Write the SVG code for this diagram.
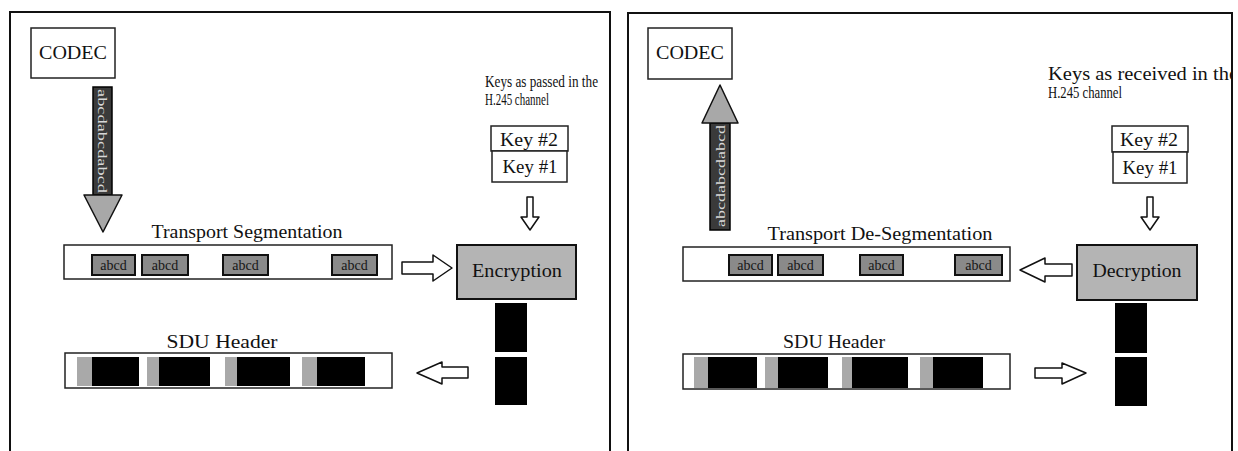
<svg xmlns="http://www.w3.org/2000/svg" width="1238" height="451" viewBox="0 0 1238 451">
<style>
  text { font-family: "Liberation Serif", "Times New Roman", serif; fill: #111; }
  .frame { fill: none; stroke: #111; stroke-width: 2; }
  .box { fill: #fff; stroke: #222; stroke-width: 1.5; }
  .hollow { fill: #fff; stroke: #111; stroke-width: 1.5; stroke-linejoin: round; }
  .seg { fill: #8a8a8a; stroke: #111; stroke-width: 2; }
  .segt { font-size: 14px; fill: #161616; text-anchor: middle; }
  .crypt { fill: #b4b4b4; stroke: #111; stroke-width: 2; }
  .blk { fill: #000; }
  .hdr { fill: #a9a9a9; }
  .shaft { fill: #3a3a3a; stroke: #000; stroke-width: 1.5; }
  .head { fill: #a8a8a8; stroke: #111; stroke-width: 1.5; stroke-linejoin: round; }
  .shaftt { font-size: 13px; fill: #d8d8d8; text-anchor: middle; }
  .lbl { font-size: 19px; text-anchor: middle; }
  .key { font-size: 19px; text-anchor: middle; }
  .note { font-size: 16px; }
</style>
<defs>
  <clipPath id="rclip"><rect x="628" y="0" width="604" height="451"/></clipPath>
</defs>

<!-- panel frames -->
<g id="frames">
  <polyline class="frame" points="10,451 10,12 610,12 610,451"/>
  <polyline class="frame" points="628,451 628,13 1232,13 1232,451"/>
</g>

<!-- LEFT PANEL -->
<g id="codec-left">
  <rect class="box" x="31" y="28" width="84" height="50"/>
  <text x="73" y="59" class="lbl" textLength="68" lengthAdjust="spacingAndGlyphs">CODEC</text>
</g>
<g id="stream-left">
  <rect class="shaft" x="93" y="87" width="19" height="108"/>
  <text class="shaftt" transform="translate(102.5,141) rotate(90)" y="4.5" textLength="104" lengthAdjust="spacingAndGlyphs">abcdabcdabcd</text>
  <polygon class="head" points="84,195 122,195 103,232"/>
</g>
<g id="keys-note-left">
  <text class="note" x="485" y="87" textLength="113" lengthAdjust="spacingAndGlyphs">Keys as passed in the</text>
  <text class="note" x="485" y="105" textLength="64" lengthAdjust="spacingAndGlyphs">H.245 channel</text>
</g>
<g id="keys-left">
  <rect class="box" x="491" y="126" width="77" height="25"/>
  <text class="key" x="529" y="146" textLength="58" lengthAdjust="spacingAndGlyphs">Key #2</text>
  <rect class="box" x="492" y="151" width="75" height="31"/>
  <text class="key" x="530" y="173" textLength="55" lengthAdjust="spacingAndGlyphs">Key #1</text>
</g>
<g id="transport-left">
  <text class="lbl" x="247" y="238" textLength="191" lengthAdjust="spacingAndGlyphs">Transport Segmentation</text>
  <rect class="box" x="64" y="245" width="328" height="34"/>
  <rect class="seg" x="92" y="255" width="43" height="20"/>
  <text class="segt" x="113.5" y="270">abcd</text>
  <rect class="seg" x="142" y="255" width="46" height="20"/>
  <text class="segt" x="165" y="270">abcd</text>
  <rect class="seg" x="223" y="255" width="45" height="20"/>
  <text class="segt" x="245.5" y="270">abcd</text>
  <rect class="seg" x="332" y="255" width="45" height="20"/>
  <text class="segt" x="354.5" y="270">abcd</text>
</g>
<g id="encryption">
  <rect class="crypt" x="457" y="245" width="119" height="54"/>
  <text x="517" y="277" class="lbl" textLength="90" lengthAdjust="spacingAndGlyphs">Encryption</text>
</g>
<g id="cipher-left">
  <rect class="blk" x="495" y="303" width="32" height="49"/>
  <rect class="blk" x="495" y="357" width="32" height="48"/>
</g>
<g id="sdu-left">
  <text class="lbl" x="222" y="348" textLength="111" lengthAdjust="spacingAndGlyphs">SDU Header</text>
  <rect class="box" x="65" y="353" width="327" height="35"/>
  <rect class="hdr" x="77" y="357" width="15" height="29"/>
  <rect class="blk" x="92" y="357" width="47" height="29"/>
  <rect class="hdr" x="147" y="357" width="12" height="29"/>
  <rect class="blk" x="159" y="357" width="51" height="29"/>
  <rect class="hdr" x="225" y="357" width="12" height="29"/>
  <rect class="blk" x="237" y="357" width="53" height="29"/>
  <rect class="hdr" x="302" y="357" width="15" height="29"/>
  <rect class="blk" x="317" y="357" width="48" height="29"/>
</g>

<!-- RIGHT PANEL -->
<g id="codec-right">
  <rect class="box" x="648" y="28" width="84" height="51"/>
  <text x="690" y="59" class="lbl" textLength="68" lengthAdjust="spacingAndGlyphs">CODEC</text>
</g>
<g id="stream-right">
  <rect class="shaft" x="710" y="123" width="20" height="107"/>
  <text class="shaftt" transform="translate(720,176) rotate(-90)" y="4.5" textLength="102" lengthAdjust="spacingAndGlyphs">abcdabcdabcd</text>
  <polygon class="head" points="720,85 738,123 702,123"/>
</g>
<g id="keys-note-right" clip-path="url(#rclip)">
  <text class="note" x="1048" y="80" style="font-size:18px" textLength="190" lengthAdjust="spacingAndGlyphs">Keys as received in the</text>
  <text class="note" x="1048" y="98" textLength="74" lengthAdjust="spacingAndGlyphs">H.245 channel</text>
</g>
<g id="keys-right">
  <rect class="box" x="1112" y="126" width="76" height="26"/>
  <text class="key" x="1149" y="146" textLength="58" lengthAdjust="spacingAndGlyphs">Key #2</text>
  <rect class="box" x="1113" y="152" width="74" height="31"/>
  <text class="key" x="1150" y="174" textLength="55" lengthAdjust="spacingAndGlyphs">Key #1</text>
</g>
<g id="transport-right">
  <text class="lbl" x="880" y="240" textLength="225" lengthAdjust="spacingAndGlyphs">Transport De-Segmentation</text>
  <rect class="box" x="683" y="247" width="327" height="34"/>
  <rect class="seg" x="729" y="255" width="43" height="20"/>
  <text class="segt" x="750.5" y="270">abcd</text>
  <rect class="seg" x="778" y="255" width="45" height="20"/>
  <text class="segt" x="800.5" y="270">abcd</text>
  <rect class="seg" x="860" y="255" width="43" height="20"/>
  <text class="segt" x="881.5" y="270">abcd</text>
  <rect class="seg" x="955" y="255" width="47" height="20"/>
  <text class="segt" x="978.5" y="270">abcd</text>
</g>
<g id="decryption">
  <rect class="crypt" x="1077" y="245" width="120" height="55"/>
  <text x="1137" y="277" class="lbl" textLength="89" lengthAdjust="spacingAndGlyphs">Decryption</text>
</g>
<g id="cipher-right">
  <rect class="blk" x="1115" y="303" width="32" height="50"/>
  <rect class="blk" x="1115" y="357" width="32" height="49"/>
</g>
<g id="sdu-right">
  <text class="lbl" x="834" y="348" textLength="102" lengthAdjust="spacingAndGlyphs">SDU Header</text>
  <rect class="box" x="683" y="354" width="327" height="35"/>
  <rect class="hdr" x="694" y="357" width="14" height="31"/>
  <rect class="blk" x="708" y="357" width="49" height="31"/>
  <rect class="hdr" x="765" y="357" width="13" height="31"/>
  <rect class="blk" x="778" y="357" width="50" height="31"/>
  <rect class="hdr" x="842" y="357" width="10" height="31"/>
  <rect class="blk" x="852" y="357" width="56" height="31"/>
  <rect class="hdr" x="920" y="357" width="13" height="31"/>
  <rect class="blk" x="933" y="357" width="50" height="31"/>
</g>

<!-- connectors -->
<g id="connectors">
  <polygon class="hollow" points="527,197 533,197 533,217 539,217 530,230 521,217 527,217"/>
  <polygon class="hollow" points="402,262 433,262 433,255 452,268 433,281 433,274 402,274"/>
  <polygon class="hollow" points="468,367 442,367 442,362 417,373 442,384 442,378 468,378"/>
  <polygon class="hollow" points="1147,197 1153,197 1153,217 1159,217 1150,230 1141,217 1147,217"/>
  <polygon class="hollow" points="1072,264 1045,264 1045,258 1020,270 1045,282 1045,276 1072,276"/>
  <polygon class="hollow" points="1035,368 1062,368 1062,363 1086,373 1062,384 1062,378 1035,378"/>
</g>
</svg>
